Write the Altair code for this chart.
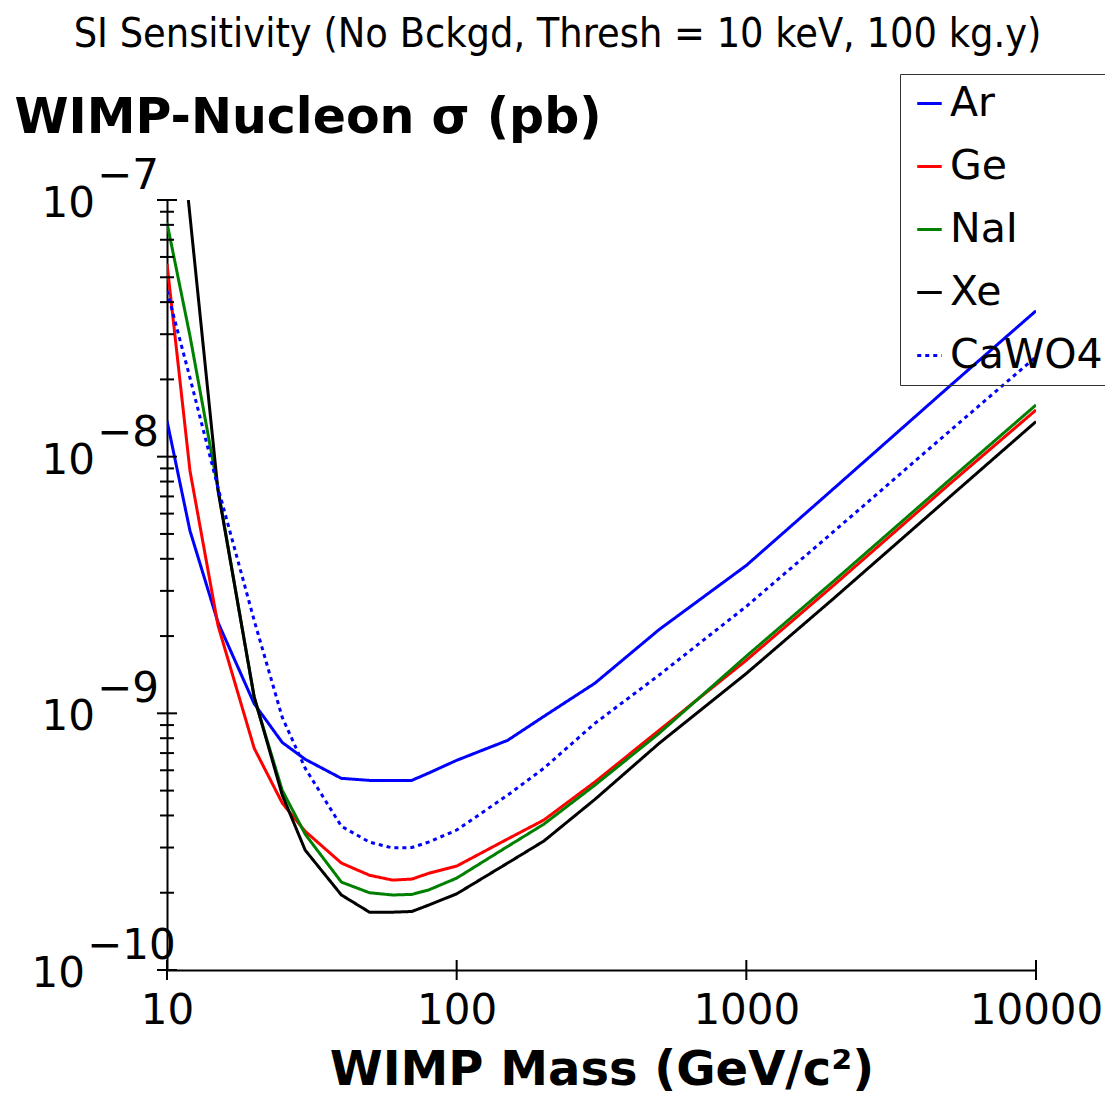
import altair as alt
import pandas as pd

# ---- data ----
MASS = [10, 12, 15, 20, 25, 30, 40, 50, 60, 70, 80, 100, 150, 200, 300, 500, 1000, 2000, 5000, 10000]
AR = [1.38e-8, 5.15e-9, 2.26e-9, 1.09e-9, 7.7e-10, 6.62e-10, 5.58e-10, 5.48e-10, 5.48e-10, 5.48e-10,
      5.85e-10, 6.56e-10, 7.85e-10, 9.73e-10, 1.31e-9, 2.12e-9, 3.77e-9, 7.5e-9, 1.87e-8, 3.70e-8]
GE = [5.64e-8, 8.83e-9, 2.2e-9, 7.31e-10, 4.47e-10, 3.47e-10, 2.61e-10, 2.34e-10, 2.24e-10, 2.26e-10,
      2.38e-10, 2.54e-10, 3.24e-10, 3.84e-10, 5.40e-10, 8.59e-10, 1.61e-9, 3.15e-9, 7.78e-9, 1.52e-8]
NAI = [8.15e-8, 2.96e-8, 7.5e-9, 1.15e-9, 5.01e-10, 3.38e-10, 2.20e-10, 2.0e-10, 1.96e-10, 1.97e-10,
       2.05e-10, 2.28e-10, 3.03e-10, 3.70e-10, 5.25e-10, 8.36e-10, 1.67e-9, 3.27e-9, 8.07e-9, 1.59e-8]
CAWO4 = [4.43e-8, 2.03e-8, 7.57e-9, 2.30e-9, 9.64e-10, 6.11e-10, 3.63e-10, 3.15e-10, 2.99e-10, 3.0e-10,
         3.15e-10, 3.51e-10, 4.80e-10, 6.11e-10, 9.14e-10, 1.41e-9, 2.61e-9, 5.10e-9, 1.25e-8, 2.45e-8]
XE_MASS = [11.85, 15, 20, 25, 30, 40, 50, 60, 70, 80, 100, 150, 200, 300, 500, 1000, 2000, 5000, 10000]
XE = [1.0e-7, 7.38e-9, 1.16e-9, 4.80e-10, 2.93e-10, 1.96e-10, 1.68e-10, 1.68e-10, 1.69e-10, 1.79e-10,
      1.98e-10, 2.61e-10, 3.18e-10, 4.62e-10, 7.64e-10, 1.43e-9, 2.80e-9, 6.92e-9, 1.37e-8]

TARGETS = ["Ar", "Ge", "NaI", "Xe", "CaWO4"]
COLORS = ["#0000ff", "#ff0000", "#008000", "#000000", "#0000ff"]
DASHES = [[1, 0], [1, 0], [1, 0], [1, 0], [4, 4]]

X_TICKS = [10, 100, 1000, 10000]
Y_EXPONENTS = [-10, -9, -8, -7]
Y_MINOR = [k * 10.0 ** e for e in (-10, -9, -8) for k in range(2, 10)]

rows = []
for name, ms, vs in [("Ar", MASS, AR), ("Ge", MASS, GE), ("NaI", MASS, NAI),
                     ("Xe", XE_MASS, XE), ("CaWO4", MASS, CAWO4)]:
    for m, v in zip(ms, vs):
        rows.append({"target": name, "mass": m, "sigma": v})
df = pd.DataFrame(rows)

FONT = "DejaVu Sans"
xs = alt.Scale(type="log", domain=[10, 10000])
ys = alt.Scale(type="log", domain=[1e-10, 1e-7])

XTITLE = "WIMP Mass (GeV/c²)"
YTITLE = "WIMP-Nucleon σ (pb)"

x_axis = alt.Axis(
    values=X_TICKS, format="d", ticks=False, grid=False, labelFlush=False,
    labelFont=FONT, labelFontSize=42, labelColor="black", labelPadding=20,
    domainColor="black", domainWidth=2,
    title=XTITLE, titleFont=FONT, titleFontSize=48,
    titleFontWeight="bold", titleColor="black", titleY=114, titleBaseline="alphabetic")
y_axis = alt.Axis(
    labels=False, ticks=False, grid=False, domainColor="black", domainWidth=2,
    title=YTITLE, titleFont=FONT, titleFontSize=49,
    titleFontWeight="bold", titleColor="black", titleAngle=0, titleX=-153,
    titleY=-68, titleAlign="left", titleBaseline="alphabetic")

leg = alt.Legend(
    title=None, orient="none", legendX=733, legendY=-126,
    symbolType="stroke", symbolSize=600, symbolStrokeWidth=3,
    labelFont=FONT, labelFontSize=41, labelColor="black", labelOffset=0, labelLimit=400,
    rowPadding=21, padding=9, strokeColor="#333333",
)

lines = alt.Chart(df).mark_line(strokeWidth=3, clip=True).encode(
    x=alt.X("mass:Q", scale=xs, axis=x_axis, title=XTITLE),
    y=alt.Y("sigma:Q", scale=ys, axis=y_axis, title=YTITLE),
    color=alt.Color("target:N", scale=alt.Scale(domain=TARGETS, range=COLORS), legend=leg),
    strokeDash=alt.StrokeDash("target:N", scale=alt.Scale(domain=TARGETS, range=DASHES), legend=leg),
    order=alt.Order("mass:Q"),
)

xt = pd.DataFrame({"mass": X_TICKS})
x_ticks = alt.Chart(xt).mark_rule(color="black", strokeWidth=2).encode(
    x=alt.X("mass:Q", scale=xs, axis=x_axis, title=XTITLE), y=alt.value(760), y2=alt.value(780))

ymaj = pd.DataFrame({"e": Y_EXPONENTS})
y_major = alt.Chart(ymaj).transform_calculate(sigma="pow(10, datum.e)").mark_rule(
    color="black", strokeWidth=2).encode(
    y=alt.Y("sigma:Q", scale=ys, axis=y_axis, title=YTITLE), x=alt.value(-10), x2=alt.value(10))

ymin = pd.DataFrame({"sigma": Y_MINOR})
y_minor = alt.Chart(ymin).mark_rule(color="black", strokeWidth=2).encode(
    y=alt.Y("sigma:Q", scale=ys, axis=y_axis, title=YTITLE), x=alt.value(-7), x2=alt.value(7))

lab_base = alt.Chart(ymaj).transform_calculate(
    sigma="pow(10, datum.e)", t="'\u2212' + abs(datum.e)")


def lab(filt, xpos, align, dy, text):
    return lab_base.transform_filter(filt).mark_text(
        align=align, baseline="middle", font=FONT, fontSize=42, color="black", dy=dy).encode(
        y=alt.Y("sigma:Q", scale=ys, axis=y_axis, title=YTITLE), x=alt.value(xpos), text=text)


ten_a = lab("datum.e > -10", -72, "right", 4, alt.value("10"))
ten_b = lab("datum.e <= -10", -82, "right", 4, alt.value("10"))
exp_a = lab("datum.e > -10", -70, "left", -24, alt.Text("t:N"))
exp_b = lab("datum.e <= -10", -80, "left", -24, alt.Text("t:N"))

chart = alt.layer(lines, x_ticks, y_major, y_minor, ten_a, ten_b, exp_a, exp_b).properties(
    width=869, height=770,
    padding={"left": 159, "top": 192, "right": 69, "bottom": 125},
    autosize="none",
    background="white",
    title=alt.TitleParams(
        "SI Sensitivity (No Bckgd, Thresh = 10 keV, 100 kg.y)",
        font="DejaVu Sans Condensed, DejaVu Sans", fontSize=41, fontWeight="normal", color="black",
        anchor="middle", dx=-44, dy=43, offset=20, baseline="bottom"),
).configure_view(stroke=None)

chart.save("out.html", embed_options={"renderer": "svg", "actions": False})
